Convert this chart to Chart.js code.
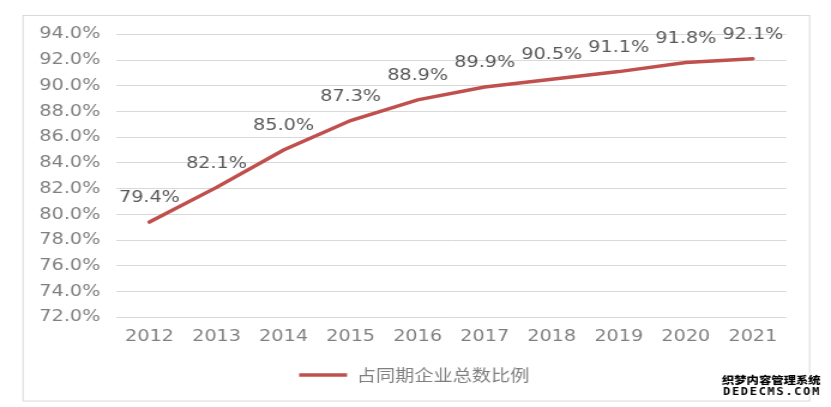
<!DOCTYPE html>
<html>
<head>
<meta charset="utf-8">
<script src="https://cdn.jsdelivr.net/npm/chart.js@4/dist/chart.umd.min.js"></script>
<style>
  html, body { margin: 0; padding: 0; background: #ffffff; overflow: hidden; }
  #wrap { width: 693px; height: 407px; transform: scaleX(1.1991); transform-origin: 0 0; }
</style>
</head>
<body>
<div id="wrap"><canvas id="c" width="693" height="407"></canvas></div>
<script>
const categories = ['2012','2013','2014','2015','2016','2017','2018','2019','2020','2021'];
const seriesName = '占同期企业总数比例';
const seriesValues = [79.4, 82.1, 85.0, 87.3, 88.9, 89.9, 90.5, 91.1, 91.8, 92.1];
const yMin = 72, yMax = 94, yStep = 2;
const watermarkLines = ['织梦内容管理系统', 'DEDECMS.COM'];

const RED = '#c0504d';
const FONT = '"DejaVu Sans", Verdana, sans-serif';

const decor = {
  id: 'decor',
  afterLayout(chart) {
    if (chart.legend) {
      chart.legend.left += 9.2;
      chart.legend.right += 9.2;
    }
  },
  beforeDraw(chart) {
    const ctx = chart.ctx;
    ctx.save();
    ctx.strokeStyle = '#d9d9d9';
    ctx.lineWidth = 1;
    ctx.strokeRect(19.2, 15.5, 656, 385.5);
    ctx.restore();
  },
  afterDatasetsDraw(chart) {
    const ctx = chart.ctx;
    const meta = chart.getDatasetMeta(0);
    ctx.save();
    ctx.font = '16px ' + FONT;
    ctx.fillStyle = '#595959';
    ctx.textAlign = 'center';
    ctx.textBaseline = 'middle';
    meta.data.forEach((pt, i) => {
      ctx.fillText(seriesValues[i].toFixed(1) + '%', pt.x, pt.y - 24);
    });
    ctx.restore();
  },
  afterDraw(chart) {
    const ctx = chart.ctx;
    ctx.save();
    ctx.textAlign = 'left';
    ctx.textBaseline = 'middle';
    ctx.lineJoin = 'round';
    ctx.font = '900 10.3px "Noto Sans CJK SC"';
    ctx.strokeStyle = '#ffffff';
    ctx.lineWidth = 3;
    ctx.strokeText(watermarkLines[0], 602, 380);
    ctx.fillStyle = '#000000';
    ctx.fillText(watermarkLines[0], 602, 380);
    ctx.font = 'bold 10px "DejaVu Sans Mono"';
    ctx.letterSpacing = '1.4px';
    ctx.strokeText(watermarkLines[1], 603, 392);
    ctx.fillText(watermarkLines[1], 603, 392);
    ctx.restore();
  }
};

new Chart(document.getElementById('c'), {
  type: 'line',
  data: {
    labels: categories,
    datasets: [{
      label: seriesName,
      data: seriesValues,
      borderColor: RED,
      backgroundColor: RED,
      borderWidth: 3.5,
      pointRadius: 0,
      pointHoverRadius: 0,
      tension: 0,
      borderCapStyle: 'round'
    }]
  },
  options: {
    responsive: false,
    animation: false,
    devicePixelRatio: 1,
    layout: { padding: { top: 34.3, left: 16.7, right: 37.2, bottom: 14 } },
    scales: {
      x: {
        offset: true,
        grid: { display: false, drawTicks: false },
        border: { display: false },
        ticks: { color: '#7f7f7f', font: { family: FONT, size: 16 }, padding: 10, maxRotation: 0 },
        afterFit: s => { s.height = 39.7; }
      },
      y: {
        min: yMin, max: yMax,
        grid: { color: '#d9d9d9', lineWidth: 1, drawTicks: false },
        border: { display: false },
        ticks: {
          stepSize: yStep,
          color: '#7f7f7f',
          font: { family: FONT, size: 16 },
          padding: 13,
          callback: v => v.toFixed(1) + '%'
        },
        afterFit: s => { s.width = 80; }
      }
    },
    plugins: {
      legend: {
        position: 'bottom',
        labels: {
          usePointStyle: true,
          pointStyle: 'line',
          pointStyleWidth: 40,
          color: '#7f7f7f',
          font: { family: '"Noto Sans CJK SC"', size: 16 },
          padding: 10
        }
      },
      tooltip: { enabled: false }
    }
  },
  plugins: [decor]
});
</script>
</body>
</html>
